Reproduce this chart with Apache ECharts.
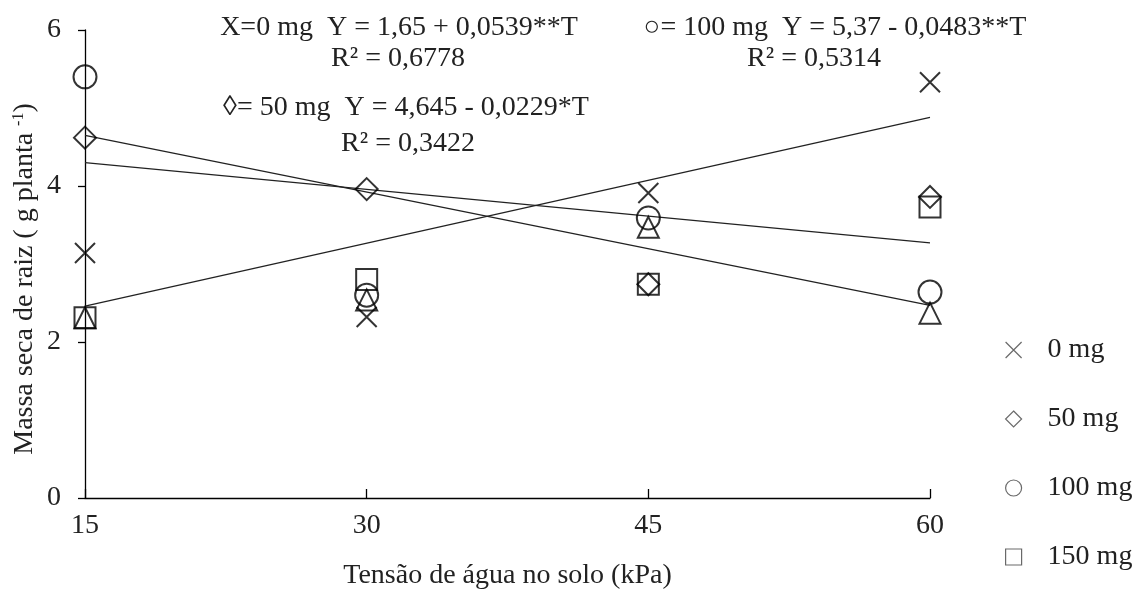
<!DOCTYPE html>
<html>
<head>
<meta charset="utf-8">
<script src="https://cdn.jsdelivr.net/npm/echarts@6/dist/echarts.min.js"></script>
<style>
  html, body { margin: 0; padding: 0; background: #fff; }
  #main { width: 1133px; height: 589px; }
</style>
</head>
<body>
<div id="main"></div>
<script>
// tensão de água no solo (kPa)
var tension = [15, 30, 45, 60];
// massa seca de raiz por dose
var mg0 = [3.14, 2.32, 3.91, 5.33];
var mg50 = [4.62, 3.96, 2.74, 3.86];
var mg100 = [5.40, 2.60, 3.59, 2.64];
var mg150 = [2.31, 2.80, 2.74, 3.73];
var triangles = [2.31, 2.54, 3.47, 2.37];
// ajustes lineares (valores nos extremos 15 e 60 kPa)
var trendX = [15, 60];
var trend0 = [2.46, 4.88];
var trend50 = [4.30, 3.27];
var trend100 = [4.65, 2.47];

var legendNames = ['0 mg', '50 mg', '100 mg', '150 mg'];
var xTicks = [15, 30, 45, 60];
var yTicks = [0, 2, 4, 6];

var FONT = '"Liberation Serif", "Times New Roman", serif';
var FS = 28;
var CROSS = 'path://M0,0L10,10M10,0L0,10';

function pairs(xs, ys) {
  var out = [];
  for (var i = 0; i < xs.length; i++) out.push([xs[i], ys[i]]);
  return out;
}

function scatter(name, data, symbol, size) {
  return {
    name: name,
    type: 'scatter',
    data: pairs(tension, data),
    symbol: symbol,
    symbolSize: size,
    itemStyle: { color: 'rgba(0,0,0,0)', borderColor: '#000', borderWidth: 2 },
    z: 3
  };
}

function trend(data) {
  return {
    type: 'line',
    data: pairs(trendX, data),
    showSymbol: false,
    silent: true,
    lineStyle: { color: '#222', width: 1.3 },
    z: 2
  };
}

function label(x, y, txt) {
  return { type: 'text', x: x, y: y,
    style: { text: txt, font: FS + 'px ' + FONT, fill: '#222', textAlign: 'center', textVerticalAlign: 'middle' } };
}

var myChart = echarts.init(document.getElementById('main'));

var option = {
  animation: false,
  backgroundColor: '#fff',
  textStyle: { fontFamily: FONT },
  grid: { left: 85, right: 203, top: 30, bottom: 91, containLabel: false, outerBoundsMode: 'none' },
  xAxis: {
    type: 'value',
    min: 15, max: 60, interval: 15,
    axisLine: { lineStyle: { color: '#000', width: 1.3 } },
    axisTick: { inside: true, length: 9, lineStyle: { color: '#000', width: 1.3 } },
    axisLabel: { color: '#222', fontSize: FS, fontFamily: FONT, margin: 14,
      formatter: function (v) { return xTicks.indexOf(v) >= 0 ? String(v) : ''; } },
    splitLine: { show: false },
    name: 'Tensão de água no solo (kPa)',
    nameLocation: 'middle',
    nameGap: 64,
    nameTextStyle: { color: '#222', fontSize: FS, fontFamily: FONT }
  },
  yAxis: {
    type: 'value',
    min: 0, max: 6, interval: 2,
    axisLine: { show: true, lineStyle: { color: '#000', width: 1.3 } },
    axisTick: { show: true, length: 7, lineStyle: { color: '#000', width: 1.3 } },
    axisLabel: { color: '#222', fontSize: FS, fontFamily: FONT, margin: 24,
      formatter: function (v) { return yTicks.indexOf(v) >= 0 ? String(v) : ''; } },
    splitLine: { show: false }
  },
  legend: {
    data: legendNames,
    orient: 'vertical',
    left: 1000,
    top: 331,
    itemGap: 41,
    itemWidth: 16,
    itemHeight: 16,
    itemStyle: { color: 'rgba(0,0,0,0)', borderColor: '#444', borderWidth: 1.2 },
    textStyle: { color: '#222', fontSize: FS, fontFamily: FONT, padding: [0, 0, 0, 21] }
  },
  series: [
    trend(trend0),
    trend(trend50),
    trend(trend100),
    scatter('0 mg', mg0, CROSS, 20),
    scatter('50 mg', mg50, 'diamond', [22, 22]),
    scatter('100 mg', mg100, 'circle', 23),
    scatter('150 mg', mg150, 'rect', 21),
    scatter('150 mg tri', triangles, 'triangle', [21, 21])
  ],
  graphic: [
    label(399, 28, 'X=0 mg  Y = 1,65 + 0,0539**T'),
    label(398, 59, 'R² = 0,6778'),
    label(835, 28, '○= 100 mg  Y = 5,37 - 0,0483**T'),
    label(814, 59, 'R² = 0,5314'),
    label(406, 108, '◊= 50 mg  Y = 4,645 - 0,0229*T'),
    label(408, 144, 'R² = 0,3422'),
    { type: 'text', x: 25, y: 279, rotation: Math.PI / 2,
      style: { text: 'Massa seca de raiz ( g planta {sup|-1})', font: FS + 'px ' + FONT, fill: '#222', textAlign: 'center', textVerticalAlign: 'middle',
        rich: { sup: { fontSize: 16, fontFamily: FONT, verticalAlign: 'top', padding: [0, 0, 10, 0] } } } }
  ]
};

myChart.setOption(option);
</script>
</body>
</html>
